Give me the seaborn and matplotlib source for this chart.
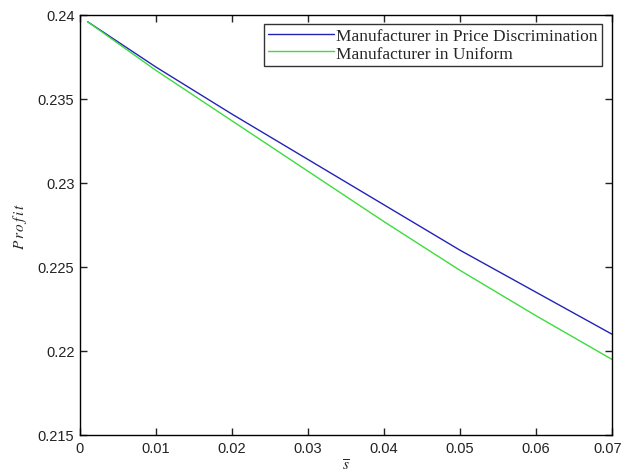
import numpy as np
import pandas as pd
import matplotlib
matplotlib.use("Agg")
import matplotlib.pyplot as plt
import matplotlib.transforms as mtransforms
import seaborn as sns

# s-bar values and manufacturer profits under the two pricing schemes
s_bar = [0.001, 0.01, 0.02, 0.03, 0.04, 0.05, 0.06, 0.07]
profit_discrimination = [0.2396, 0.2369, 0.2341, 0.2314, 0.2287, 0.2260, 0.2235, 0.2210]
profit_uniform = [0.2396, 0.2367, 0.2337, 0.2307, 0.2277, 0.2248, 0.2221, 0.2195]

series_names = ["Manufacturer in Price Discrimination", "Manufacturer in Uniform"]
x_ticks = [0, 0.01, 0.02, 0.03, 0.04, 0.05, 0.06, 0.07]
x_tick_labels = ["0", "0.01", "0.02", "0.03", "0.04", "0.05", "0.06", "0.07"]
y_ticks = [0.215, 0.22, 0.225, 0.23, 0.235, 0.24]
y_tick_labels = ["0.215", "0.22", "0.225", "0.23", "0.235", "0.24"]

df = pd.DataFrame({
    "s": s_bar * 2,
    "profit": profit_discrimination + profit_uniform,
    "series": [series_names[0]] * len(s_bar) + [series_names[1]] * len(s_bar),
})

sns.set_style("ticks")
plt.rcParams["font.family"] = ["Liberation Sans", "DejaVu Sans"]
plt.rcParams["mathtext.fontset"] = "stix"

fig = plt.figure(figsize=(6.23, 4.77), dpi=100)
ax = fig.add_axes([80 / 623, 41 / 477, 532 / 623, 420 / 477])

palette = {series_names[0]: "#2323b8", series_names[1]: "#3ddc3d"}
sns.lineplot(data=df, x="s", y="profit", hue="series", palette=palette,
             linewidth=1.0, ax=ax, legend=True, sort=False)

ax.set_xlim(0, 0.07)
ax.set_ylim(0.215, 0.24)
ax.set_xticks(x_ticks)
ax.set_xticklabels(x_tick_labels)
ax.set_yticks(y_ticks)
ax.set_yticklabels(y_tick_labels)
ax.tick_params(direction="in", length=5, width=1, top=True, right=True,
               labelsize=10.5, colors="#222222", pad=4)
for sp in ax.spines.values():
    sp.set_visible(True)
    sp.set_color("black")
    sp.set_linewidth(1.0)

# keep the rightmost x tick label inside the canvas
last = ax.get_xticklabels()[-1]
last.set_transform(last.get_transform() +
                   mtransforms.ScaledTranslation(-4 / 100, 0, fig.dpi_scale_trans))

ax.set_xlabel(r"$\overline{s}$", fontsize=11, labelpad=2)
ax.set_ylabel(r"$P\,r\,o\,f\,i\,t$", fontsize=11, labelpad=6)

leg = ax.legend(loc="upper right", bbox_to_anchor=(0.9812, 0.9786),
                borderaxespad=0, frameon=True, fancybox=False,
                prop={"family": "Liberation Serif", "size": 12.5},
                handlelength=3.8, handletextpad=0.1, borderpad=0.25,
                labelspacing=0.05)
leg.get_frame().set_edgecolor("black")
leg.get_frame().set_linewidth(1.0)
for line in leg.get_lines():
    line.set_linewidth(1.0)

fig.savefig("out.png", dpi=100)
